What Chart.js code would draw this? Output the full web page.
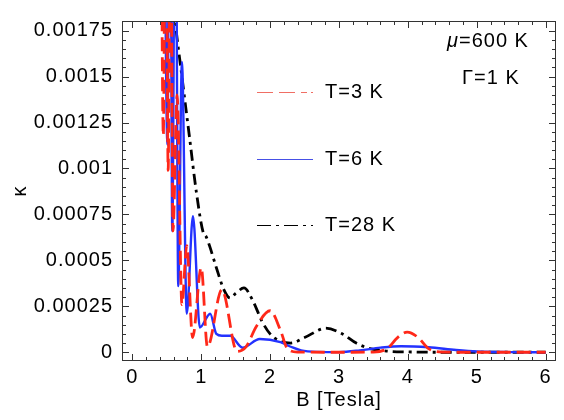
<!DOCTYPE html>
<html>
<head>
<meta charset="utf-8">
<script src="https://cdn.jsdelivr.net/npm/chart.js@4.4.1/dist/chart.umd.min.js"></script>
<style>
  html, body { margin: 0; padding: 0; background: #fff; }
  #wrap { width: 564px; height: 420px; }
</style>
</head>
<body>
<div id="wrap"><canvas id="myChart"></canvas></div>
<script>
// T = 3 K (red, dashed)
const bT3 = [0.40, 0.45, 0.485, 0.52, 0.555, 0.59, 0.65, 0.72, 0.79, 0.875, 1.0, 1.09, 1.3, 1.52, 1.65, 1.8, 2.0, 2.15, 2.25, 2.4, 3.0, 3.5, 3.7, 3.85, 3.99, 4.15, 4.3, 4.5, 5.0, 6.0];
const kT3 = [0.004, 0.00118, 0.003, 0.00099, 0.0028, 0.00066, 0.0014, 0.00026, 0.00058, 0.00008, 0.00046, 0.00003, 0.00034, 0.000005, 0.00003, 0.00014, 0.000226, 0.00012, 0.00002, 0.000001, 0, 0.000001, 0.00002, 0.00008, 0.00011, 0.00008, 0.00002, 0.000001, 0, 0];

// T = 6 K (blue, solid)
const bT6 = [0.44, 0.51, 0.545, 0.58, 0.625, 0.667, 0.72, 0.79, 0.88, 0.98, 1.13, 1.22, 1.30, 1.42, 1.6, 1.85, 2.15, 2.3, 2.45, 2.7, 3.0, 3.3, 3.6, 3.9, 4.3, 4.7, 5.0, 5.5, 6.0];
const kT6 = [0.004, 0.00113, 0.0035, 0.00066, 0.003, 0.00036, 0.00158, 0.00021, 0.00074, 0.000135, 0.00021, 0.0001, 0.00009, 0.00009, 0.000025, 0.000072, 0.000055, 0.00003, 0.00001, 0.000002, 0.000001, 0.00001, 0.000025, 0.000033, 0.000027, 0.000012, 0.000004, 0.000001, 0];

// T = 28 K (black, dash-dot)
const bT28 = [0.5, 0.61, 0.72, 0.83, 0.93, 1.03, 1.07, 1.12, 1.22, 1.33, 1.42, 1.5, 1.62, 1.75, 1.88, 2.0, 2.13, 2.3, 2.5, 2.81, 3.05, 3.25, 3.45, 3.7, 4.0, 4.5, 6.0];
const kT28 = [0.0024, 0.00185, 0.0015, 0.00117, 0.00087, 0.00065, 0.00063, 0.00058, 0.00046, 0.00034, 0.000295, 0.00032, 0.00035, 0.00028, 0.00017, 0.0001, 0.000063, 0.00005, 0.00008, 0.000131, 0.0001, 0.00005, 0.00002, 0.000006, 0.000002, 0, 0];

const xTicks = [0, 1, 2, 3, 4, 5, 6];
const yTicks = [0, 0.00025, 0.0005, 0.00075, 0.001, 0.00125, 0.0015, 0.00175];
const yTickLabels = ['0', '0.00025', '0.0005', '0.00075', '0.001', '0.00125', '0.0015', '0.00175'];

const FONT = 'Liberation Sans, Arial, Helvetica, sans-serif';
Chart.defaults.font.family = FONT;
Chart.defaults.color = '#000';

const pts = (bs, ks) => bs.map((b, i) => ({ x: b, y: ks[i] }));

// the reference text is a little wider than Liberation Sans, so space letters out a bit
const spacingPlugin = {
  id: 'spacing',
  beforeLayout(chart) { chart.ctx.letterSpacing = '1px'; },
  beforeDraw(chart) { chart.ctx.letterSpacing = '1px'; },
};

// frame with inward ticks on all four sides, plus the in-plot legend and notes
const framePlugin = {
  id: 'frame',
  afterDraw(chart) {
    const { ctx, chartArea: a, scales: { x, y } } = chart;
    ctx.save();
    ctx.strokeStyle = '#333';
    ctx.lineWidth = 1;
    ctx.strokeRect(a.left + 0.5, a.top + 0.5, a.right - a.left - 1, a.bottom - a.top - 1);
    ctx.beginPath();
    for (let i = 0; i <= 30; i++) {
      const px = Math.round(x.getPixelForValue(i * 0.2)) + 0.5;
      const len = i % 5 === 0 ? 7 : 4;
      ctx.moveTo(px, a.bottom); ctx.lineTo(px, a.bottom - len);
      ctx.moveTo(px, a.top); ctx.lineTo(px, a.top + len);
    }
    for (let i = 0; i <= 36; i++) {
      const py = Math.round(y.getPixelForValue(i * 0.00005)) + 0.5;
      const len = i % 5 === 0 ? 7 : 4;
      ctx.moveTo(a.left, py); ctx.lineTo(a.left + len, py);
      ctx.moveTo(a.right, py); ctx.lineTo(a.right - len, py);
    }
    ctx.stroke();

    // legend
    const rows = [92, 159, 225];
    chart.data.datasets.forEach((ds, i) => {
      ctx.beginPath();
      ctx.strokeStyle = ds.legendColor;
      ctx.lineWidth = 1.2;
      ctx.setLineDash(ds.legendDash);
      ctx.moveTo(257, rows[i] + 0.5);
      ctx.lineTo(313, rows[i] + 0.5);
      ctx.stroke();
      ctx.setLineDash([]);
      ctx.fillStyle = '#000';
      ctx.font = '20px ' + FONT;
      ctx.textBaseline = 'middle';
      ctx.fillText(ds.label, 325, rows[i]);
    });

    // notes
    ctx.font = 'italic 20px ' + FONT;
    ctx.fillText('\u03bc', 447, 41);
    const mw = ctx.measureText('\u03bc').width;
    ctx.font = '20px ' + FONT;
    ctx.fillText('=600 K', 447 + mw, 41);
    ctx.fillText('\u0393=1 K', 462, 78);
    ctx.restore();
  }
};

new Chart(document.getElementById('myChart').getContext('2d'), {
  type: 'line',
  data: {
    datasets: [
      {
        label: 'T=3 K',
        data: pts(bT3, kT3),
        borderColor: 'rgb(255, 40, 25)',
        borderWidth: 2.8,
        borderDash: [14, 6],
        legendColor: 'rgb(240, 110, 100)',
        legendDash: [16, 6, 16, 6, 6, 4],
      },
      {
        label: 'T=6 K',
        data: pts(bT6, kT6),
        borderColor: 'rgb(35, 50, 255)',
        borderWidth: 2.4,
        borderDash: [],
        legendColor: 'rgb(70, 80, 230)',
        legendDash: [],
      },
      {
        label: 'T=28 K',
        data: pts(bT28, kT28),
        borderColor: '#000',
        borderWidth: 2.8,
        borderDash: [11, 5, 3, 5],
        legendColor: '#000',
        legendDash: [14, 5, 3, 5],
      },
    ],
  },
  options: {
    responsive: true,
    maintainAspectRatio: false,
    animation: false,
    layout: { padding: { top: 9, right: 8, left: 0, bottom: 8 } },
    elements: {
      point: { radius: 0 },
      line: { cubicInterpolationMode: 'monotone', fill: false },
    },
    plugins: { legend: { display: false }, tooltip: { enabled: false } },
    scales: {
      x: {
        type: 'linear',
        min: -0.15,
        max: 6.15,
        afterBuildTicks: (s) => { s.ticks = xTicks.map(v => ({ value: v })); },
        afterFit: (s) => { s.height = 51; },
        grid: { display: false, drawTicks: false },
        border: { display: false },
        ticks: { font: { size: 20 }, padding: 4, maxRotation: 0, callback: (v) => String(v) },
        title: { display: true, text: 'B [Tesla]', font: { size: 20 }, padding: { top: 0, bottom: 0 } },
      },
      y: {
        type: 'linear',
        min: -0.0000475,
        max: 0.0018025,
        afterBuildTicks: (s) => { s.ticks = yTicks.map(v => ({ value: v })); },
        afterFit: (s) => { s.width = 122; },
        grid: { display: false, drawTicks: false },
        border: { display: false },
        ticks: { font: { size: 20 }, padding: 9, callback: (v) => yTickLabels[yTicks.indexOf(v)] },
        title: { display: true, text: '\u03ba', font: { size: 20 }, padding: { top: 8, bottom: 0 } },
      },
    },
  },
  plugins: [spacingPlugin, framePlugin],
});
</script>
</body>
</html>
